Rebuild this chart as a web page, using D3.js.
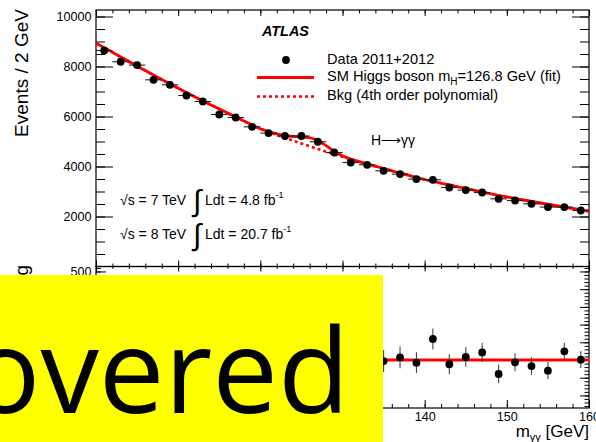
<!DOCTYPE html>
<html>
<head>
<meta charset="utf-8">
<script src="https://cdn.jsdelivr.net/npm/d3@7"></script>
<style>
  body { margin: 0; background: #fff; }
  svg { display: block; }
  text { font-family: "Liberation Sans", Arial, sans-serif; fill: #000; }
</style>
</head>
<body>
<div id="wrapper"></div>
<script>
// diphoton mass bins (GeV) and events per 2 GeV
const massBins = [101, 103, 105, 107, 109, 111, 113, 115, 117, 119, 121, 123, 125, 127, 129,
  131, 133, 135, 137, 139, 141, 143, 145, 147, 149, 151, 153, 155, 157, 159]
const events = [8640, 8190, 8056, 7468, 7268, 6840, 6600, 6080, 5960, 5588, 5336, 5220, 5220, 4990, 4560,
  4160, 4068, 3828, 3696, 3496, 3468, 3160, 3056, 2960, 2708, 2640, 2508, 2376, 2376, 2240]

// fitted curves
const curveMass = [100, 104, 108, 112, 116, 118, 120, 121, 122, 123, 124, 125, 126, 127, 128, 129, 130,
  131, 132, 134, 136, 140, 144, 148, 152, 156, 160]
const bkgCurve = [8936, 8200, 7480, 6790, 6140, 5820, 5510, 5390, 5265, 5145, 5030, 4920, 4810, 4700, 4595, 4490, 4390,
  4290, 4195, 4010, 3830, 3480, 3190, 2910, 2660, 2430, 2210]
const totCurve = [8936, 8200, 7480, 6790, 6140, 5820, 5512, 5400, 5305, 5235, 5200, 5190, 5150, 5045, 4835, 4600, 4425,
  4298, 4197, 4010, 3830, 3480, 3190, 2910, 2660, 2430, 2210]

// lower panel: events - bkg (visible bins)
const resMass = [135, 137, 139, 141, 143, 145, 147, 149, 151, 153, 155, 157, 159]
const resValues = [-6, 15, -15, 119, -24, 17, 43, -79, -13, -34, -60, 49, 2]
const resErrors = [62, 61, 59, 59, 56, 55, 54, 52, 51, 50, 49, 49, 47]

const yTicksMain = [2000, 4000, 6000, 8000, 10000]
const xTicksMajor = [100, 110, 120, 130, 140, 150, 160]
const xTickLabels = [140, 150, 160]
const resTickLabels = [500]

const width = 596
const height = 442
const frame = { left: 96, right: 589, top: 10, mid: 266.5, bottom: 408 }

const svg = d3.select("#wrapper")
  .append("svg")
    .attr("width", width)
    .attr("height", height)

const xScale = d3.scaleLinear()
  .domain([100, 160])
  .range([frame.left, frame.right])

const yScale = d3.scaleLinear()
  .domain([0, 10260])
  .range([frame.mid, frame.top])

const yResScale = d3.scaleLinear()
  .domain([-271, 528])
  .range([frame.bottom, frame.mid])

const xMinor = d3.range(100, 161, 2)
const yMinor = d3.range(500, 10001, 500)
const resMajor = d3.range(-200, 501, 100)
const resMinor = d3.range(-260, 521, 20)

// ticks drawn with d3 axes, pointing into the frame
function ticks(gen, values, size, tx, ty, labels) {
  const g = svg.append("g")
    .attr("transform", `translate(${tx},${ty})`)
    .style("color", "#000")
    .call(gen.tickValues(values).tickSize(-size).tickPadding(4.5)
      .tickFormat(d => labels && labels.includes(d) ? d3.format("d")(d) : ""))
  g.select(".domain").remove()
  g.selectAll("line").attr("stroke-width", 1)
  g.selectAll("text")
    .style("font-family", '"Liberation Sans", Arial, sans-serif')
    .style("font-size", "12.6px")
    .attr("fill", "#111")
  g.selectAll("text").filter(function() { return this.textContent === "" }).remove()
  return g
}

// upper panel ticks
ticks(d3.axisLeft(yScale), yTicksMain, 17, frame.left, 0, yTicksMain)
ticks(d3.axisLeft(yScale), yMinor, 9, frame.left, 0)
ticks(d3.axisRight(yScale), yTicksMain, 17, frame.right, 0)
ticks(d3.axisRight(yScale), yMinor, 9, frame.right, 0)
ticks(d3.axisTop(xScale), xTicksMajor, 6, 0, frame.top)
ticks(d3.axisTop(xScale), xMinor, 3.5, 0, frame.top)
ticks(d3.axisBottom(xScale), xTicksMajor, 6, 0, frame.mid)
ticks(d3.axisBottom(xScale), xMinor, 3, 0, frame.mid)

// lower panel ticks
ticks(d3.axisTop(xScale), xTicksMajor, 5, 0, frame.mid)
ticks(d3.axisTop(xScale), xMinor, 2.5, 0, frame.mid)
ticks(d3.axisBottom(xScale), xTicksMajor, 8, 0, frame.bottom, xTickLabels)
ticks(d3.axisBottom(xScale), xMinor, 4, 0, frame.bottom)
ticks(d3.axisLeft(yResScale), resMajor, 10, frame.left, 0, resTickLabels)
ticks(d3.axisLeft(yResScale), resMinor, 5, frame.left, 0)
ticks(d3.axisRight(yResScale), resMajor, 9, frame.right, 0)
ticks(d3.axisRight(yResScale), resMinor, 4.5, frame.right, 0)

// frames
svg.append("rect")
  .attr("x", frame.left).attr("y", frame.top)
  .attr("width", frame.right - frame.left).attr("height", frame.mid - frame.top)
  .attr("fill", "none").attr("stroke", "#000").attr("stroke-width", 1.2)
svg.append("rect")
  .attr("x", frame.left).attr("y", frame.mid)
  .attr("width", frame.right - frame.left).attr("height", frame.bottom - frame.mid)
  .attr("fill", "none").attr("stroke", "#000").attr("stroke-width", 1.2)

// curves
const curvePts = d3.zip(curveMass, bkgCurve, totCurve)
const line = d3.line()
  .x(d => xScale(d[0]))
  .y(d => yScale(d[1]))
  .curve(d3.curveMonotoneX)

const plot = svg.append("g")

plot.append("path")
  .datum(curvePts.map(d => [d[0], d[1]]))
  .attr("d", line)
  .attr("fill", "none")
  .attr("stroke", "#ff0000")
  .attr("stroke-width", 2.6)
  .attr("stroke-dasharray", "3,3")

plot.append("path")
  .datum(curvePts.map(d => [d[0], d[2]]))
  .attr("d", line)
  .attr("fill", "none")
  .attr("stroke", "#ff0000")
  .attr("stroke-width", 2.8)

// data points, upper panel
const data = d3.zip(massBins, events)
plot.selectAll(".xerr")
  .data(data)
  .enter().append("line")
    .attr("x1", d => xScale(d[0] - 1))
    .attr("x2", d => xScale(d[0] + 1))
    .attr("y1", d => yScale(d[1]))
    .attr("y2", d => yScale(d[1]))
    .attr("stroke", "#222")
    .attr("stroke-width", 1.1)
plot.selectAll(".pt")
  .data(data)
  .enter().append("circle")
    .attr("cx", d => xScale(d[0]))
    .attr("cy", d => yScale(d[1]))
    .attr("r", 3.9)
    .attr("fill", "#000")

// lower panel
const resLine = d3.line()
  .x(d => xScale(d[0]))
  .y(d => yResScale(d[1]))
  .curve(d3.curveMonotoneX)

plot.append("path")
  .datum(curvePts.map(d => [d[0], d[2] - d[1]]))
  .attr("d", resLine)
  .attr("fill", "none")
  .attr("stroke", "#ff0000")
  .attr("stroke-width", 2.8)

const res = d3.zip(resMass, resValues, resErrors)
plot.selectAll(".yerr")
  .data(res)
  .enter().append("line")
    .attr("x1", d => xScale(d[0]))
    .attr("x2", d => xScale(d[0]))
    .attr("y1", d => yResScale(d[1] - d[2]))
    .attr("y2", d => yResScale(d[1] + d[2]))
    .attr("stroke", "#444")
    .attr("stroke-width", 1.1)
plot.selectAll(".rpt")
  .data(res)
  .enter().append("circle")
    .attr("cx", d => xScale(d[0]))
    .attr("cy", d => yResScale(d[1]))
    .attr("r", 3.9)
    .attr("fill", "#000")

// axis titles
svg.append("text")
  .attr("transform", "translate(28,73) rotate(-90)")
  .attr("text-anchor", "middle")
  .style("font-size", "19px")
  .text("Events / 2 GeV")

svg.append("text")
  .attr("transform", "translate(28,265) rotate(-90)")
  .attr("text-anchor", "end")
  .style("font-size", "19px")
  .text("Events - Bkg")

const xTitle = svg.append("text")
  .attr("x", 589).attr("y", 437)
  .attr("text-anchor", "end")
  .style("font-size", "17px")
xTitle.append("tspan").text("m")
xTitle.append("tspan").attr("dy", 4).style("font-size", "11px").text("γγ")
xTitle.append("tspan").attr("dy", -4).text(" [GeV]")

// ATLAS label and legend
svg.append("text")
  .attr("x", 262).attr("y", 36)
  .style("font-size", "14.4px")
  .style("font-weight", "bold")
  .style("font-style", "italic")
  .text("ATLAS")

svg.append("circle")
  .attr("cx", 286).attr("cy", 60).attr("r", 3.9).attr("fill", "#000")
svg.append("text")
  .attr("x", 327).attr("y", 64)
  .style("font-size", "14.6px")
  .text("Data 2011+2012")

svg.append("line")
  .attr("x1", 257).attr("x2", 314).attr("y1", 77.5).attr("y2", 77.5)
  .attr("stroke", "#ff0000").attr("stroke-width", 2.8)
const sm = svg.append("text")
  .attr("x", 327).attr("y", 81)
  .style("font-size", "14.6px")
sm.append("tspan").text("SM Higgs boson m")
sm.append("tspan").attr("dy", 3.5).style("font-size", "10px").text("H")
sm.append("tspan").attr("dy", -3.5).text("=126.8 GeV (fit)")

svg.append("line")
  .attr("x1", 257).attr("x2", 314).attr("y1", 96.5).attr("y2", 96.5)
  .attr("stroke", "#ff0000").attr("stroke-width", 2.6)
  .attr("stroke-dasharray", "3,3")
svg.append("text")
  .attr("x", 327).attr("y", 100)
  .style("font-size", "14.6px")
  .text("Bkg (4th order polynomial)")

svg.append("text")
  .attr("x", 371).attr("y", 145)
  .style("font-size", "14px")
  .text("H⟶γγ")

// luminosity
const lumi = [
  { s: "√s = 7 TeV", l: "Ldt = 4.8 fb", y: 204.5 },
  { s: "√s = 8 TeV", l: "Ldt = 20.7 fb", y: 238.5 }
]
lumi.forEach(d => {
  svg.append("text")
    .attr("x", 120).attr("y", d.y)
    .style("font-size", "14px")
    .text(d.s)
  svg.append("text")
    .attr("x", 193).attr("y", d.y + 6)
    .style("font-size", "30px")
    .text("∫")
  const t = svg.append("text")
    .attr("x", 205).attr("y", d.y)
    .style("font-size", "14px")
  t.append("tspan").text(d.l)
  t.append("tspan").attr("dy", -7).style("font-size", "9px").text("-1")
})

// covering box
svg.append("rect")
  .attr("x", 0).attr("y", 275)
  .attr("width", 383).attr("height", height - 275)
  .attr("fill", "#ffff00")
svg.append("text")
  .attr("x", -30).attr("y", 413)
  .style("font-family", '"Open Sans", sans-serif')
  .style("font-size", "117px")
  .text("overed")
</script>
</body>
</html>
